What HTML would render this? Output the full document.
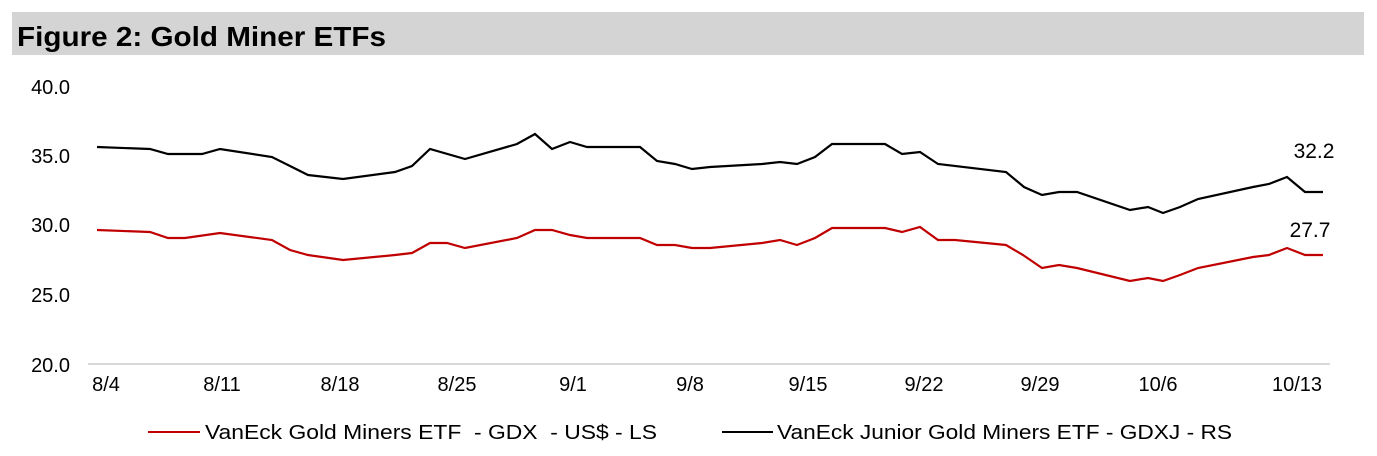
<!DOCTYPE html>
<html><head><meta charset="utf-8"><style>
body{margin:0;background:#fff;width:1377px;height:451px;overflow:hidden;font-family:"Liberation Sans",Arial,sans-serif}
</style></head><body>
<svg width="1377" height="451" xmlns="http://www.w3.org/2000/svg" font-family="Liberation Sans, Arial, sans-serif">
<rect x="12" y="12" width="1352" height="43" fill="#d4d4d4"/>
<text x="17" y="46" font-size="28" font-weight="bold" fill="#000" textLength="369" lengthAdjust="spacingAndGlyphs">Figure 2: Gold Miner ETFs</text>
<g font-size="20" fill="#000" text-anchor="end">
<text x="70" y="94">40.0</text><text x="70" y="163">35.0</text><text x="70" y="232">30.0</text><text x="70" y="302">25.0</text><text x="70" y="372">20.0</text>
</g>
<line x1="88" y1="364" x2="1330" y2="364" stroke="#d9d9d9" stroke-width="2"/>
<g font-size="20" fill="#000" text-anchor="middle">
<text x="106" y="391">8/4</text><text x="222" y="391">8/11</text><text x="340" y="391">8/18</text><text x="457" y="391">8/25</text><text x="573" y="391">9/1</text><text x="690" y="391">9/8</text><text x="808" y="391">9/15</text><text x="924" y="391">9/22</text><text x="1040" y="391">9/29</text><text x="1158" y="391">10/6</text><text x="1297" y="391">10/13</text>
</g>
<polyline fill="none" stroke="#000" stroke-width="2.2" points="97,147 150,149 168,154 202,154 220,149 272,157 290,166 308,175 343,179 395,172 412,166 430,149 465,159 517,144 535,134 552,149 570,142 587,147 640,147 657,161 675,164 692,169 710,167 762,164 780,162 797,164 815,157 832,144 885,144 902,154 920,152 938,164 1006,172 1024,187 1042,195 1059,192 1077,192 1130,210 1148,207 1163,213 1180,207 1198,199 1253,187 1269,184 1287,177 1305,192 1323,192"/>
<polyline fill="none" stroke="#c00000" stroke-width="2.2" points="97,230 150,232 168,238 185,238 220,233 272,240 290,250 308,255 343,260 395,255 412,253 430,243 447,243 465,248 517,238 535,230 552,230 570,235 587,238 640,238 657,245 675,245 692,248 710,248 762,243 780,240 797,245 815,238 832,228 885,228 902,232 920,227 938,240 955,240 1006,245 1023,255 1042,268 1059,265 1077,268 1130,281 1148,278 1163,281 1180,275 1198,268 1253,257 1269,255 1287,248 1305,255 1323,255"/>
<g font-size="21" fill="#000" text-anchor="middle">
<text x="1314" y="158">32.2</text><text x="1310" y="237">27.7</text>
</g>
<line x1="148" y1="432" x2="200" y2="432" stroke="#c00000" stroke-width="2"/>
<text x="205" y="439" font-size="20" textLength="452" lengthAdjust="spacingAndGlyphs" xml:space="preserve">VanEck Gold Miners ETF  - GDX  - US$ - LS</text>
<line x1="722" y1="432" x2="773" y2="432" stroke="#000" stroke-width="2"/>
<text x="777" y="439" font-size="20" textLength="455" lengthAdjust="spacingAndGlyphs">VanEck Junior Gold Miners ETF - GDXJ - RS</text>
</svg>
</body></html>
